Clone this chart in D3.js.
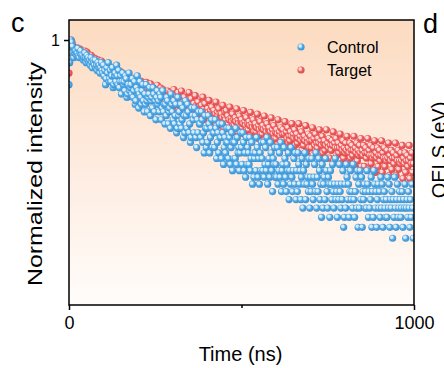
<!DOCTYPE html>
<html><head><meta charset="utf-8">
<script src="https://cdn.jsdelivr.net/npm/d3@7"></script>
<style>html,body{margin:0;padding:0;background:#fff;overflow:hidden}svg{display:block;font-family:"Liberation Sans",Arial,Helvetica,sans-serif}</style>
</head><body><svg id="chart" width="444" height="368"></svg>
<script>
// ---- data (photon counts per 2 ns channel) ----
const timeStepNs = 2;
const controlCounts = [
38,46,53,56,55,53,50,48,50,51,
51,49,50,52,49,48,50,51,49,48,
49,47,48,50,48,46,49,47,48,46,
47,45,48,46,44,47,46,45,47,44,
45,43,46,44,45,42,44,46,43,42,
45,41,43,38,40,44,42,46,39,40,
43,39,41,44,37,38,41,42,39,45,
41,38,43,37,39,41,35,39,42,38,
39,36,41,40,34,35,38,42,36,37,
38,35,40,34,36,39,32,33,37,41,
36,31,35,39,34,32,36,38,33,30,
35,32,38,33,30,34,35,37,29,33,
34,31,37,35,30,33,28,34,36,32,
33,30,35,34,28,31,36,30,32,27,
32,29,34,33,27,30,31,26,35,32,
30,28,33,27,29,32,25,26,34,29,
30,27,32,26,28,31,24,29,25,33,
29,26,32,30,25,27,23,24,31,29,
28,25,31,29,24,22,28,25,30,27,
27,24,30,28,23,25,21,29,26,22,
26,23,29,27,21,24,26,28,22,25,
25,22,28,26,20,23,25,21,27,24,
24,20,27,25,19,22,24,21,23,26,
23,20,26,24,19,22,25,18,23,20,
23,20,26,19,24,21,22,18,21,25,
22,19,25,23,18,21,17,24,19,22,
21,19,24,18,20,23,16,21,17,20,
21,18,24,22,17,20,16,21,18,23,
20,18,23,17,19,22,18,24,16,19,
20,17,23,21,18,15,20,19,22,17,
19,17,22,16,18,21,17,23,15,18,
19,16,22,20,17,15,19,18,21,14,
18,16,22,17,15,18,20,16,21,14,
18,15,21,19,16,18,14,17,20,13,
18,16,21,14,19,16,17,15,20,13,
17,15,20,16,14,17,19,15,21,13,
17,15,20,18,14,16,12,19,13,16,
17,14,20,18,15,13,17,16,12,18,
16,14,19,15,13,16,20,14,15,12,
16,14,19,15,13,16,14,18,11,12,
16,13,19,17,14,16,12,15,18,14,
15,13,19,14,12,15,17,13,18,11,
16,13,18,14,17,11,15,14,16,13,
15,13,18,16,12,15,13,14,17,11,
15,12,18,16,13,15,11,14,16,13,
15,12,17,13,16,11,14,15,13,12,
14,12,17,13,16,11,14,13,15,10,
14,12,17,13,11,14,16,12,13,15,
14,12,13,15,11,14,13,16,10,13,
14,12,15,13,11,14,12,16,13,10
];
const targetCounts = [
90,102,114,120,118,115,112,110,111,112,
111,108,112,109,110,107,111,109,106,108,
108,105,107,109,104,106,108,103,106,104,
104,101,105,102,100,103,101,99,102,100,
100,97,101,98,96,99,97,100,95,98,
97,93,96,94,92,96,93,95,91,94,
93,90,94,91,89,92,95,88,91,90,
91,87,90,88,86,91,87,89,85,88,
88,84,87,85,83,88,84,86,82,85,
85,81,84,82,86,80,83,85,79,83,
83,78,82,80,84,77,81,83,78,80,
80,77,83,78,75,81,79,76,82,78,
75,79,77,73,80,76,78,74,81,76,
77,73,76,79,72,75,78,71,76,74,
71,75,73,77,70,74,72,76,69,73,
73,70,78,68,72,74,69,71,76,66,
68,72,70,77,66,71,69,73,64,70,
70,66,71,68,76,65,69,72,63,68,
65,69,67,74,61,68,66,70,64,67,
67,63,68,65,73,60,66,69,64,65,
62,66,64,71,58,65,63,67,61,64,
65,60,63,70,57,64,62,66,58,63,
59,63,61,68,56,62,64,60,65,58,
62,58,60,67,55,61,59,63,57,60,
57,61,59,66,54,60,58,62,56,59,
60,56,58,65,53,59,57,61,55,58,
55,59,57,64,52,58,56,60,54,57,
58,54,56,63,51,57,55,59,53,56,
53,57,55,62,50,56,54,58,52,55,
56,52,54,61,49,55,53,57,51,54,
51,55,53,60,48,54,52,56,50,53,
55,50,53,59,47,54,51,56,49,52,
50,54,52,58,46,53,51,55,48,52,
53,49,51,58,46,52,50,54,46,51,
48,52,50,57,45,51,49,53,47,50,
52,47,50,56,44,51,48,53,46,49,
47,51,49,55,43,50,48,52,45,49,
50,46,48,55,43,49,47,51,43,48,
46,50,48,54,42,49,47,51,44,47,
49,45,47,53,41,48,46,50,43,47,
45,49,46,52,41,47,45,49,43,46,
48,44,46,52,40,47,45,49,42,46,
44,48,45,51,40,46,44,48,40,45,
47,43,45,51,39,46,44,48,41,44,
43,47,44,50,38,45,43,47,40,44,
46,42,44,50,38,45,43,47,40,43,
42,46,43,49,37,44,42,46,39,43,
45,41,43,49,37,44,42,46,39,42,
41,45,42,48,36,43,41,45,38,42,
44,40,42,48,36,43,41,45,38,41
];
const seriesNames = ["Control", "Target"];
const xTickValues = [0, 500, 1000];
const xTickLabels = ["0", "", "1000"];
const yTickValues = [1];
const yTickLabels = ["1"];

// ---- layout ----
const W = 444, H = 368;
const m = {left: 69, top: 20, right: 30, bottom: 63};
const pw = W - m.left - m.right, ph = H - m.top - m.bottom;

const svg = d3.select("#chart");
const defs = svg.append("defs");

const bg = defs.append("linearGradient").attr("id","bg").attr("x1",0).attr("y1",0).attr("x2",0).attr("y2",1);
bg.append("stop").attr("offset","0%").attr("stop-color","#fcdbc0");
bg.append("stop").attr("offset","55%").attr("stop-color","#feede2");
bg.append("stop").attr("offset","100%").attr("stop-color","#fffcfa");

function ball(id, hi, mid, lo){
  const g = defs.append("radialGradient").attr("id",id)
    .attr("cx","42%").attr("cy","42%").attr("r","58%").attr("fx","36%").attr("fy","32%");
  g.append("stop").attr("offset","0%").attr("stop-color",hi);
  g.append("stop").attr("offset","30%").attr("stop-color",hi);
  g.append("stop").attr("offset","55%").attr("stop-color",mid);
  g.append("stop").attr("offset","100%").attr("stop-color",lo);
}
ball("ballBlue", "#d6ecfb", "#55ace6", "#3a90d2");
ball("ballRed", "#ffd9d9", "#f06262", "#da4848");

defs.append("clipPath").attr("id","clip").append("rect")
  .attr("x", m.left).attr("y", m.top).attr("width", pw).attr("height", ph);

const x = d3.scaleLinear().domain([0, 1000]).range([m.left, m.left + pw]);
const y = d3.scaleLog().domain([0.1, 1.19]).range([m.top + ph, m.top]);

svg.append("rect").attr("x", m.left).attr("y", m.top).attr("width", pw).attr("height", ph)
  .attr("fill","url(#bg)");

function toPoints(counts){
  const peak = d3.max(counts);
  return counts.map((c, i) => ({t: i * timeStepNs, v: c / peak}));
}
const series = [
  {name: seriesNames[1], pts: toPoints(targetCounts), fill: "url(#ballRed)"},
  {name: seriesNames[0], pts: toPoints(controlCounts), fill: "url(#ballBlue)"}
];

const plot = svg.append("g").attr("clip-path","url(#clip)");
series.forEach(s => {
  plot.append("g").selectAll("circle").data(s.pts).join("circle")
    .attr("cx", d => x(d.t)).attr("cy", d => y(d.v)).attr("r", 3.6)
    .attr("fill", s.fill);
});

// frame
svg.append("rect").attr("x", m.left).attr("y", m.top).attr("width", pw).attr("height", ph)
  .attr("fill","none").attr("stroke","#000").attr("stroke-width",1.5);

// x axis
const xAxis = svg.append("g").attr("transform", `translate(0,${m.top + ph})`)
  .call(d3.axisBottom(x).tickValues(xTickValues).tickSize(5)
    .tickFormat((d, i) => xTickLabels[i]));
xAxis.select(".domain").remove();
xAxis.selectAll(".tick line").attr("stroke","#000").attr("stroke-width",1.5)
  .attr("y2", (d, i) => xTickLabels[i] === "" ? 3 : 5);
xAxis.selectAll(".tick text").attr("font-size",18).attr("fill","#000")
  .attr("font-family","Liberation Sans, Arial, sans-serif").attr("dy","0.71em").attr("y",11);

// y axis
const yAxis = svg.append("g").attr("transform", `translate(${m.left},0)`)
  .call(d3.axisLeft(y).tickValues(yTickValues).tickSize(5)
    .tickFormat((d, i) => yTickLabels[i]));
yAxis.select(".domain").remove();
yAxis.selectAll(".tick line").attr("stroke","#000").attr("stroke-width",1.5);
yAxis.selectAll(".tick text").attr("font-size",16).attr("fill","#000")
  .attr("font-family","Liberation Sans, Arial, sans-serif").attr("x",-9);

// axis titles
svg.append("text").attr("x", m.left + pw/2 - 1).attr("y", 361).attr("text-anchor","middle")
  .attr("font-size",20).text("Time (ns)");
svg.append("text").attr("transform", `translate(42,174) rotate(-90)`)
  .attr("text-anchor","middle").attr("font-size",21)
  .attr("textLength",224).attr("lengthAdjust","spacingAndGlyphs").text("Normalized intensity");

// panel letters
svg.append("text").attr("x", 11).attr("y", 32).attr("font-size",27).text("c");
svg.append("text").attr("x", 423).attr("y", 33).attr("font-size",27).text("d");
svg.append("text").attr("transform", "translate(446,150) rotate(-90)")
  .attr("text-anchor","middle").attr("font-size",20).text("QELS (eV)");

// legend
const leg = svg.append("g");
[series[1], series[0]].forEach((s, i) => {
  const yy = 47 + i * 23;
  leg.append("circle").attr("cx", 301).attr("cy", yy).attr("r", 3.6).attr("fill", s.fill);
  leg.append("text").attr("x", 327).attr("y", yy + 6).attr("font-size",16).text(s.name);
});
</script></body></html>
